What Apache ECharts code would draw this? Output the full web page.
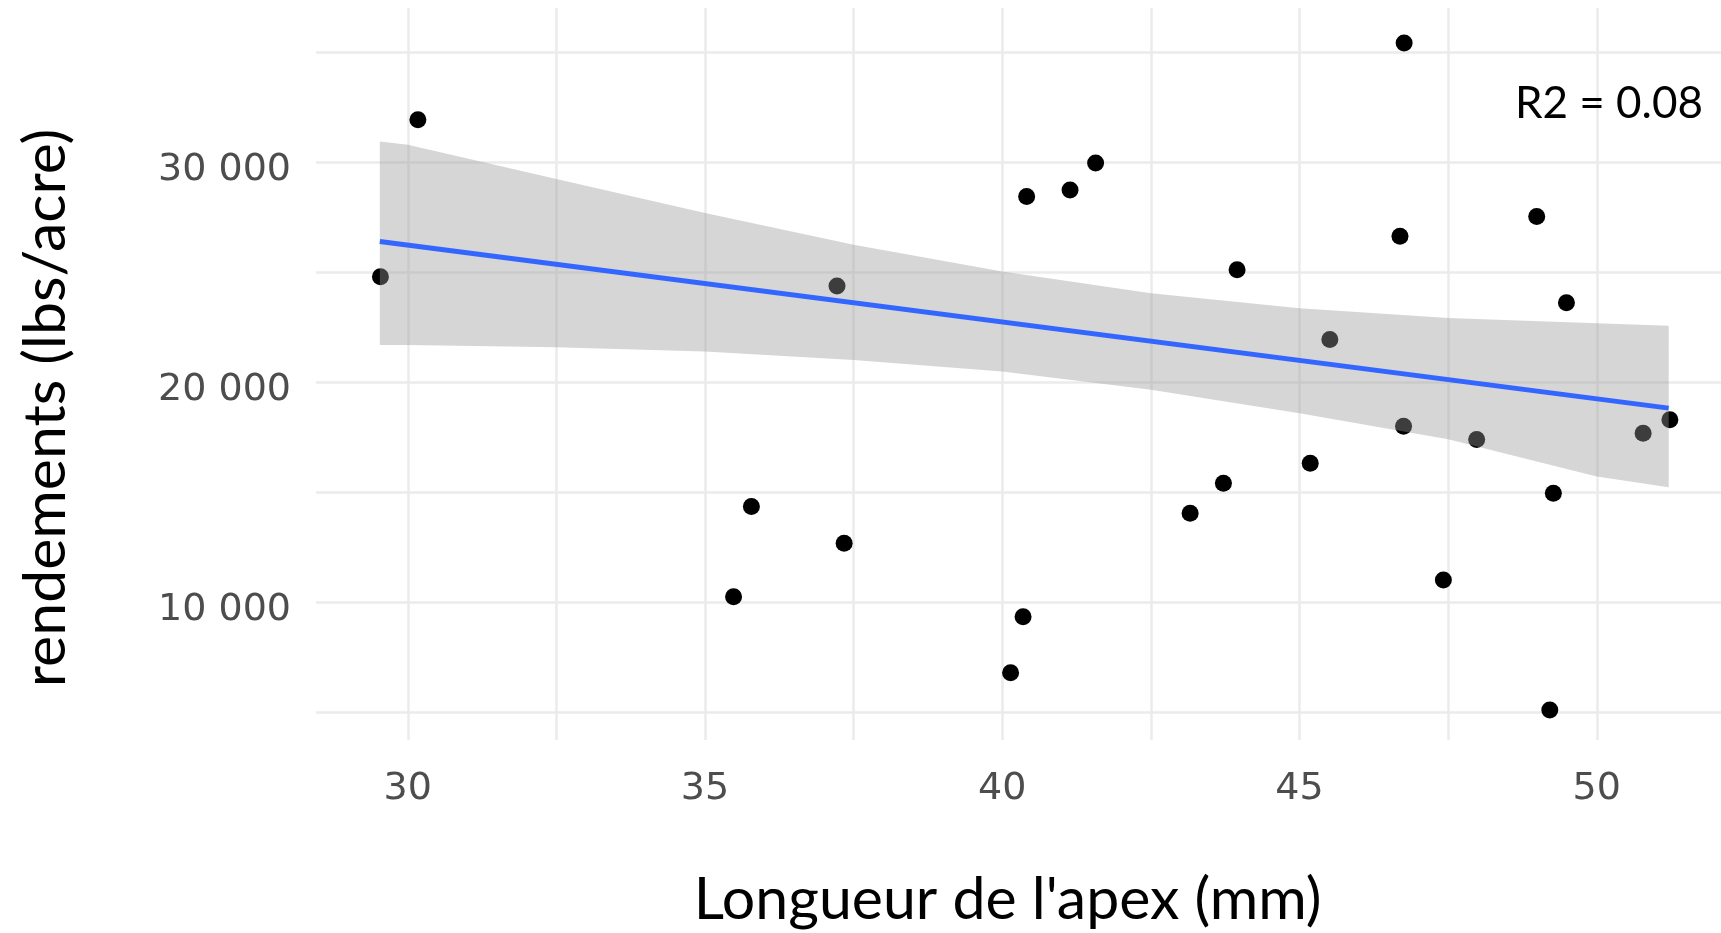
<!DOCTYPE html>
<html>
<head>
<meta charset="utf-8">
<script src="https://cdn.jsdelivr.net/npm/echarts@6/dist/echarts.min.js"></script>
<style>
html, body { margin: 0; padding: 0; background: #ffffff; }
#chart { width: 1721px; height: 933px; }
</style>
</head>
<body>
<div id="chart"></div>
<script>
// ---- data ----
const apexLength = [29.54, 30.17, 35.48, 35.78, 37.22, 37.34, 40.14, 40.35, 40.41, 41.14, 41.57, 43.16, 43.72, 43.95, 45.18, 45.51, 46.76, 46.69, 46.75, 47.42, 47.98, 48.99, 49.21, 49.27, 49.49, 50.78, 51.23];
const yields     = [24800, 31930, 10270, 14360, 24380, 12690, 6815, 9360, 28440, 28740, 29960, 14060, 15420, 25110, 16330, 21950, 35410, 26640, 18010, 11030, 17410, 27530, 5120, 14965, 23620, 17690, 18300];

const fitX = [29.53, 51.21];
const fitY = [26400, 18830];

const bandX     = [29.53, 30, 32.5, 35, 37.5, 40, 42.5, 45, 47.5, 50, 51.21];
const bandUpper = [30940, 30790, 29230, 27690, 26250, 25030, 24050, 23370, 22920, 22690, 22570];
const bandLower = [21700, 21700, 21600, 21400, 21020, 20490, 19660, 18600, 17420, 15720, 15240];

const xTickLabels = [30, 35, 40, 45, 50];
const xGridValues = [30, 32.5, 35, 37.5, 40, 42.5, 45, 47.5, 50];
const yTickLabels = [10000, 20000, 30000];
const yGridValues = [5000, 10000, 15000, 20000, 25000, 30000, 35000];

const xTitle = "Longueur de l'apex (mm)";
const yTitle = "rendements (lbs/acre)";
const r2Text = "R2 = 0.08";

// ---- chart ----
const chart = echarts.init(document.getElementById('chart'), null, { renderer: 'canvas' });

const points = apexLength.map((x, i) => [x, yields[i]]);
const fitLine = fitX.map((x, i) => [x, fitY[i]]);
const gridStyle = { color: '#ebebeb', width: 2.5, type: 'solid' };

const fmt = v => String(v).replace(/\B(?=(\d{3})+(?!\d))/g, ' ');

const option = {
  animation: false,
  backgroundColor: '#ffffff',
  grid: { left: 316, top: 8, width: 1405, height: 732, containLabel: false },
  xAxis: {
    type: 'value',
    min: 28.456,
    max: 52.09,
    axisLine: { show: false },
    axisTick: { show: false },
    splitLine: { show: false },
    axisLabel: {
      customValues: xTickLabels,
      color: '#4d4d4d',
      fontFamily: 'DejaVu Sans',
      fontSize: 38,
      margin: 30
    }
  },
  yAxis: {
    type: 'value',
    min: 3760,
    max: 37000,
    axisLine: { show: false },
    axisTick: { show: false },
    splitLine: { show: false },
    axisLabel: {
      customValues: yTickLabels,
      formatter: fmt,
      color: '#4d4d4d',
      fontFamily: 'DejaVu Sans',
      fontSize: 38,
      margin: 25,
      verticalAlign: 'top',
      lineHeight: 16
    }
  },
  graphic: [
    {
      type: 'text', x: 1007.6, y: 900, z: 10,
      style: { text: xTitle, fill: '#000000', font: '59px Lato', textAlign: 'center', textVerticalAlign: 'middle' }
    },
    {
      type: 'text', x: 46, y: 408, rotation: Math.PI / 2, z: 10,
      style: { text: yTitle, fill: '#000000', font: '59px Lato', textAlign: 'center', textVerticalAlign: 'middle' }
    },
    {
      type: 'text', x: 1703, y: 104, z: 10,
      style: { text: r2Text, fill: '#000000', font: '44px Lato', textAlign: 'right', textVerticalAlign: 'middle' }
    }
  ],
  series: [
    {
      name: 'points',
      type: 'scatter',
      z: 2,
      silent: true,
      symbol: 'circle',
      symbolSize: 17,
      itemStyle: { color: '#000000', opacity: 1 },
      data: points,
      markLine: {
        silent: true,
        z: 1,
        symbol: ['none', 'none'],
        label: { show: false },
        emphasis: { disabled: true },
        lineStyle: gridStyle,
        data: xGridValues.map(v => ({ xAxis: v })).concat(yGridValues.map(v => ({ yAxis: v })))
      }
    },
    {
      name: 'band',
      type: 'custom',
      z: 3,
      silent: true,
      data: [[bandX[0], bandUpper[0]]],
      renderItem: function (params, api) {
        const pts = [];
        for (let i = 0; i < bandX.length; i++) pts.push(api.coord([bandX[i], bandUpper[i]]));
        for (let i = bandX.length - 1; i >= 0; i--) pts.push(api.coord([bandX[i], bandLower[i]]));
        return { type: 'polygon', shape: { points: pts }, style: { fill: 'rgba(153,153,153,0.4)' } };
      }
    },
    {
      name: 'fit',
      type: 'line',
      z: 4,
      silent: true,
      showSymbol: false,
      symbol: 'none',
      lineStyle: { color: '#3366FF', width: 5 },
      data: fitLine
    }
  ]
};

chart.setOption(option);
</script>
</body>
</html>
